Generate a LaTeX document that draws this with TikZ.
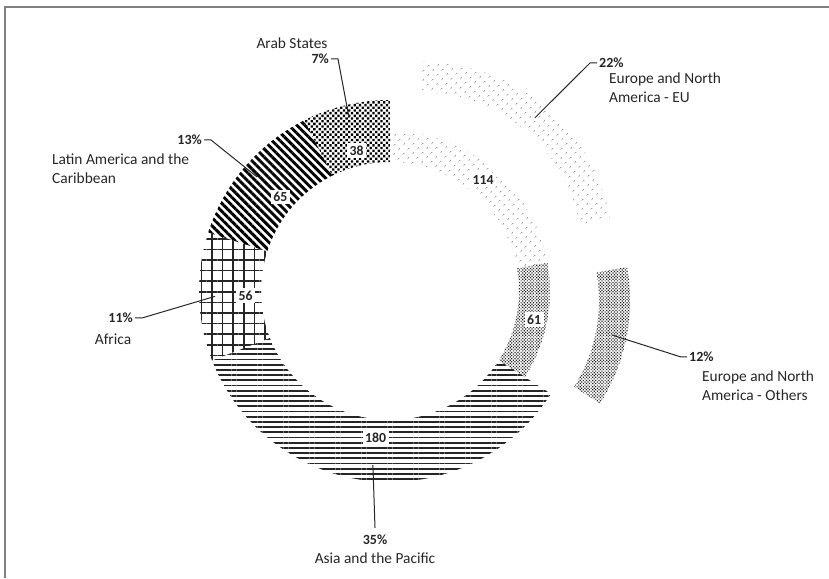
\documentclass[tikz,border=0pt]{standalone}
\usepackage{fontspec}
\setmainfont{Carlito}
\usepackage{tikz}
\usetikzlibrary{patterns.meta,calc}
\definecolor{ChartInk}{HTML}{262626}
\definecolor{ChartLine}{HTML}{262626}
\definecolor{ChartFrame}{HTML}{7F7F7F}
\newcommand{\ringpiece}[5][]{\fill[#1] (#2:#5) arc[start angle=#2,end angle=#3,radius=#5] -- (#3:#4) arc[start angle=#3,end angle=#2,radius=#4] -- cycle;}
\tikzset{
  catlabel/.style={font=\fontsize{15.4}{19}\selectfont,text=ChartInk,inner sep=0pt,align=left},
  pctlabel/.style={font=\fontsize{14}{17}\selectfont\bfseries,text=ChartInk,inner sep=2pt},
  vallabel/.style={font=\fontsize{13.8}{16}\selectfont\bfseries,text=ChartInk,fill=white,inner sep=2.5pt},
  leader/.style={draw=ChartLine,line width=1pt},
  arabfill/.style={pattern={Dots[radius=1.65pt,distance=3.8pt,angle=45]},pattern color=black},
  eufill/.style={pattern={Dots[radius=0.7pt,distance=6.5pt,angle=45]},pattern color=black!75},
  othersfill/.style={pattern={Dots[radius=0.85pt,distance=2.2pt,angle=45]},pattern color=black!85},
  asiafill/.style={pattern={Lines[angle=0,distance=5.2pt,line width=1.8pt]},pattern color=black!85},
  africafill/.style={pattern={Hatch[angle=0,distance=10.6pt,line width=1.6pt]},pattern color=black!85},
  latinfill/.style={pattern={Lines[angle=-45,distance=5.7pt,line width=2.9pt]},pattern color=black}
}
\begin{document}
\begin{tikzpicture}[x=1pt,y=1pt]
\useasboundingbox (0,0) rectangle (829,578);
\draw[ChartFrame,line width=1.3pt] (5,0) -- (5,571) -- (829,571);
\coordinate (c) at (390,287);
\begin{scope}[shift={(c)}]
\ringpiece[eufill]{90}{10.16}{129}{160}
\ringpiece[othersfill]{10.16}{-32.57}{129}{160}
\ringpiece[asiafill]{-32.57}{-158.64}{129}{191}
\ringpiece[africafill]{-158.64}{-197.86}{129}{191}
\ringpiece[latinfill]{-197.86}{-243.39}{129}{191}
\ringpiece[arabfill]{-243.39}{-270}{129}{191}
\end{scope}
\begin{scope}[shift={($(c)+(50.08:50)$)}]
\ringpiece[eufill]{90}{10.16}{160}{191}
\end{scope}
\begin{scope}[shift={($(c)+(-11.2:50)$)}]
\ringpiece[othersfill]{10.16}{-32.57}{160}{191}
\end{scope}
\coordinate (arabpt) at ([shift={(103.31:178)}]c);
\coordinate (latinpt) at ([shift={(139.37:175)}]c);
\coordinate (africapt) at ([shift={(181.75:175)}]c);
\coordinate (asiapt) at ([shift={(-95.61:175)}]c);
\coordinate (eupt) at ([shift={(50.08:226)}]c);
\coordinate (otherspt) at ([shift={(-11.2:226)}]c);
\node[vallabel] (v38) at ([shift={(103.31:144.5)}]c) {38};
\node[vallabel] (v65) at ([shift={(139.37:144.5)}]c) {65};
\node[vallabel] (v56) at ([shift={(181.75:144.5)}]c) {56};
\node[vallabel] (v180) at ([shift={(-95.61:147)}]c) {180};
\node[vallabel] (v114) at ([shift={(50.08:145)}]c) {114};
\node[vallabel] (v61) at ([shift={(-11.2:147)}]c) {61};
\node[catlabel] (arab) at (292,535) {Arab States};
\node[pctlabel,anchor=east] (p7) at (331,519) {7\%};
\draw[leader] (p7.east) -- ++(7,0) -- (arabpt);
\node[catlabel,anchor=west] (latin) at (52,409.5) {Latin America and the\\Caribbean};
\node[pctlabel,anchor=east] (p13) at (204,438) {13\%};
\draw[leader] (p13.east) -- ++(7,0) -- (latinpt);
\node[pctlabel,anchor=east] (p11) at (135,260) {11\%};
\node[catlabel] (africa) at (113,239) {Africa};
\draw[leader] (p11.east) -- ++(7,0) -- (africapt);
\node[pctlabel] (p35) at (375,38) {35\%};
\node[catlabel] (asia) at (375,20) {Asia and the Pacific};
\draw[leader] ([yshift=5pt]p35.north) -- (asiapt);
\node[pctlabel,anchor=west] (p22) at (597,515) {22\%};
\node[catlabel,anchor=west] (eu) at (609,490) {Europe and North\\America - EU};
\draw[leader] (p22.west) -- ++(-7,0) -- (eupt);
\node[pctlabel,anchor=west] (p12) at (687,221) {12\%};
\node[catlabel,anchor=west] (others) at (702,192.5) {Europe and North\\America - Others};
\draw[leader] (p12.west) -- ++(-6,0) -- (otherspt);
\end{tikzpicture}
\end{document}
